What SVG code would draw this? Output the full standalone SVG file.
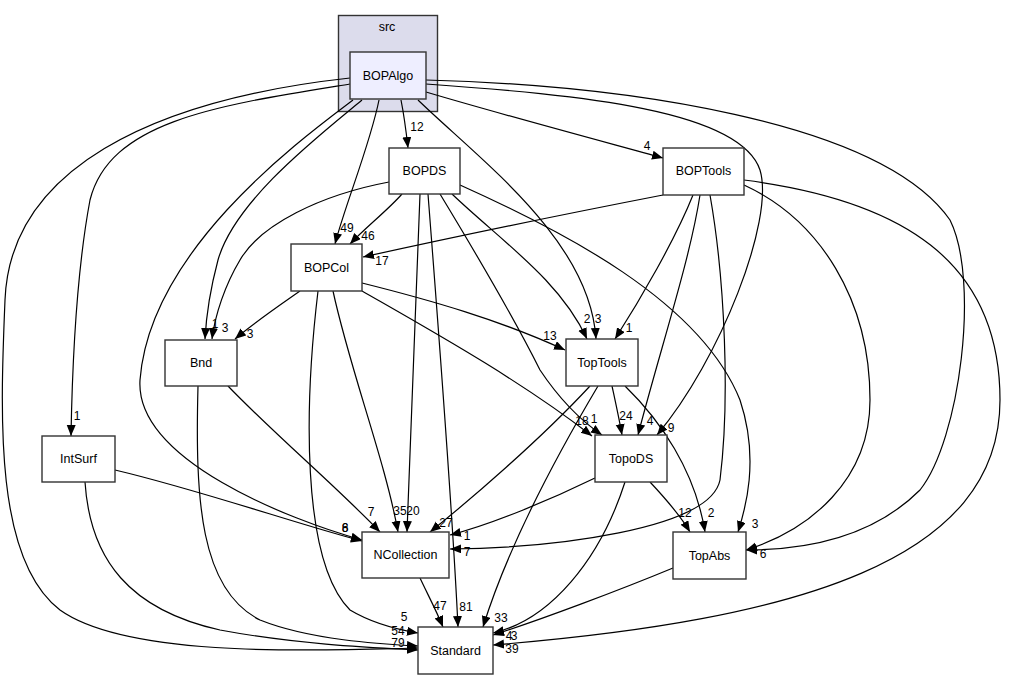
<svg xmlns="http://www.w3.org/2000/svg" width="1013" height="681" viewBox="0 0 1013 681">
<defs>
<marker id="ah" markerUnits="userSpaceOnUse" markerWidth="13" markerHeight="10" refX="11" refY="4.5" orient="auto">
<path d="M0,0 L11,4.5 L0,9 z" fill="#000"/>
</marker>
<style>
.n rect{fill:#fff;stroke:#333;stroke-width:1.4}
.t{font-family:"Liberation Sans",Arial,sans-serif;font-size:12.5px;text-anchor:middle;fill:#000}
.l{font-family:"Liberation Sans",Arial,sans-serif;font-size:12px;text-anchor:middle;fill:#000}
#edges path{fill:none;stroke:#000;stroke-width:1.2;marker-end:url(#ah)}
</style>
</defs>
<rect width="1013" height="681" fill="#fff"/>
<g id="cluster_src">
<rect x="338.5" y="15.5" width="99" height="96" fill="#dcdcec" stroke="#333" stroke-width="1.4"/>
<text class="t" x="387" y="31">src</text>
</g>
<g id="edges">
<path d="M401,100 C404,115 406,130 408,148"/>
<path d="M426,92 C500,114 590,138 663,158"/>
<path d="M379,100 C370,145 345,205 335,244"/>
<path d="M402,194 C388,210 365,228 350,244"/>
<path d="M663,195 C560,215 440,240 363,257"/>
<path d="M362,100 C320,135 235,200 218,260 C210,290 206,320 205,339"/>
<path d="M389,182 C320,195 260,225 240,260 C225,285 215,315 212,339"/>
<path d="M300,291 C280,305 255,322 235,339"/>
<path d="M418,100 C480,160 590,240 596,339"/>
<path d="M452,194 C500,240 560,280 587,339"/>
<path d="M693,195 C675,240 640,300 615,339"/>
<path d="M362,283 C430,300 500,320 565,350"/>
<path d="M426,84 C580,95 740,110 760,170 C775,220 720,360 657,435"/>
<path d="M700,195 C690,260 660,350 638,435"/>
<path d="M612,386 C615,400 619,418 622,435"/>
<path d="M362,291 C430,330 520,380 592,436"/>
<path d="M440,194 C480,260 520,330 540,370 C560,400 580,420 602,435"/>
<path d="M460,185 C560,230 700,300 740,400 C760,460 745,510 738,532"/>
<path d="M625,386 C660,420 695,470 705,532"/>
<path d="M650,482 C665,498 680,515 690,532"/>
<path d="M744,185 C820,220 870,300 870,400 C870,480 810,530 746,550"/>
<path d="M426,80 C620,85 880,120 950,220 C980,280 960,440 920,490 C870,540 800,550 746,550"/>
<path d="M353,100 C300,140 150,250 140,380 C135,460 290,520 362,540"/>
<path d="M115,470 C200,490 300,525 362,541"/>
<path d="M228,386 C270,430 340,490 380,532"/>
<path d="M333,291 C350,370 385,460 398,532"/>
<path d="M420,194 C416,300 410,450 407,532"/>
<path d="M590,386 C540,440 470,500 430,532"/>
<path d="M595,478 C550,500 490,525 450,535"/>
<path d="M710,195 C725,280 730,400 720,480 C710,530 550,548 450,549"/>
<path d="M350,84 C220,105 110,120 90,200 C75,280 72,380 71,436"/>
<path d="M350,78 C150,100 10,170 5,300 C0,420 -5,560 60,610 C130,660 330,650 418,648"/>
<path d="M85,482 C90,560 130,610 220,630 C300,645 380,648 418,650"/>
<path d="M198,386 C195,500 200,590 260,620 C310,640 380,644 418,646"/>
<path d="M318,291 C305,400 300,560 350,610 C375,625 400,630 418,633"/>
<path d="M428,194 C440,350 452,500 458,627"/>
<path d="M420,578 C428,595 436,610 443,627"/>
<path d="M598,386 C560,450 510,540 483,627"/>
<path d="M625,482 C600,560 550,620 493,633"/>
<path d="M673,568 C620,590 540,620 493,635"/>
<path d="M744,180 C900,200 1000,260 1000,400 C1000,560 800,620 493,645"/>
</g>
<g id="edge_labels">
<text class="l" x="417" y="131">12</text>
<text class="l" x="647" y="150">4</text>
<text class="l" x="347" y="232">49</text>
<text class="l" x="368" y="240">46</text>
<text class="l" x="382" y="265">17</text>
<text class="l" x="215" y="328">1</text>
<text class="l" x="225" y="332">3</text>
<text class="l" x="250" y="338">3</text>
<text class="l" x="598" y="323">3</text>
<text class="l" x="587" y="323">2</text>
<text class="l" x="629" y="332">1</text>
<text class="l" x="550" y="340">13</text>
<text class="l" x="671" y="432">9</text>
<text class="l" x="650" y="425">4</text>
<text class="l" x="626" y="420">24</text>
<text class="l" x="582" y="425">18</text>
<text class="l" x="594" y="423">1</text>
<text class="l" x="755" y="528">3</text>
<text class="l" x="711" y="517">2</text>
<text class="l" x="685" y="517">12</text>
<text class="l" x="763" y="558">6</text>
<text class="l" x="345" y="532">8</text>
<text class="l" x="345" y="532">6</text>
<text class="l" x="371" y="516">7</text>
<text class="l" x="400" y="515">35</text>
<text class="l" x="413" y="515">20</text>
<text class="l" x="446" y="527">27</text>
<text class="l" x="467" y="540">1</text>
<text class="l" x="467" y="556">7</text>
<text class="l" x="77" y="420">1</text>
<text class="l" x="398" y="635">54</text>
<text class="l" x="398" y="647">79</text>
<text class="l" x="404" y="621">5</text>
<text class="l" x="466" y="611">81</text>
<text class="l" x="440" y="610">47</text>
<text class="l" x="501" y="622">33</text>
<text class="l" x="509" y="640">4</text>
<text class="l" x="514" y="640">3</text>
<text class="l" x="512" y="653">39</text>
</g>
<g id="BOPAlgo" class="n"><rect x="350" y="52" width="76" height="47" style="fill:#eeeeff"/><text class="t" x="388" y="80">BOPAlgo</text></g>
<g id="BOPDS" class="n"><rect x="389" y="148" width="71" height="46"/><text class="t" x="424.5" y="175">BOPDS</text></g>
<g id="BOPTools" class="n"><rect x="663" y="148" width="81" height="47"/><text class="t" x="703.5" y="175">BOPTools</text></g>
<g id="BOPCol" class="n"><rect x="291" y="244" width="71" height="47"/><text class="t" x="326.5" y="272">BOPCol</text></g>
<g id="Bnd" class="n"><rect x="165" y="340" width="72" height="46"/><text class="t" x="201" y="367">Bnd</text></g>
<g id="TopTools" class="n"><rect x="566" y="339" width="72" height="47"/><text class="t" x="602" y="367">TopTools</text></g>
<g id="IntSurf" class="n"><rect x="42" y="436" width="73" height="46"/><text class="t" x="78.5" y="463">IntSurf</text></g>
<g id="TopoDS" class="n"><rect x="595" y="435" width="72" height="47"/><text class="t" x="631" y="463">TopoDS</text></g>
<g id="NCollection" class="n"><rect x="362" y="532" width="87" height="46"/><text class="t" x="405.5" y="559">NCollection</text></g>
<g id="TopAbs" class="n"><rect x="673" y="532" width="73" height="47"/><text class="t" x="709.5" y="560">TopAbs</text></g>
<g id="Standard" class="n"><rect x="418" y="627" width="75" height="47"/><text class="t" x="455.5" y="655">Standard</text></g>
</svg>
